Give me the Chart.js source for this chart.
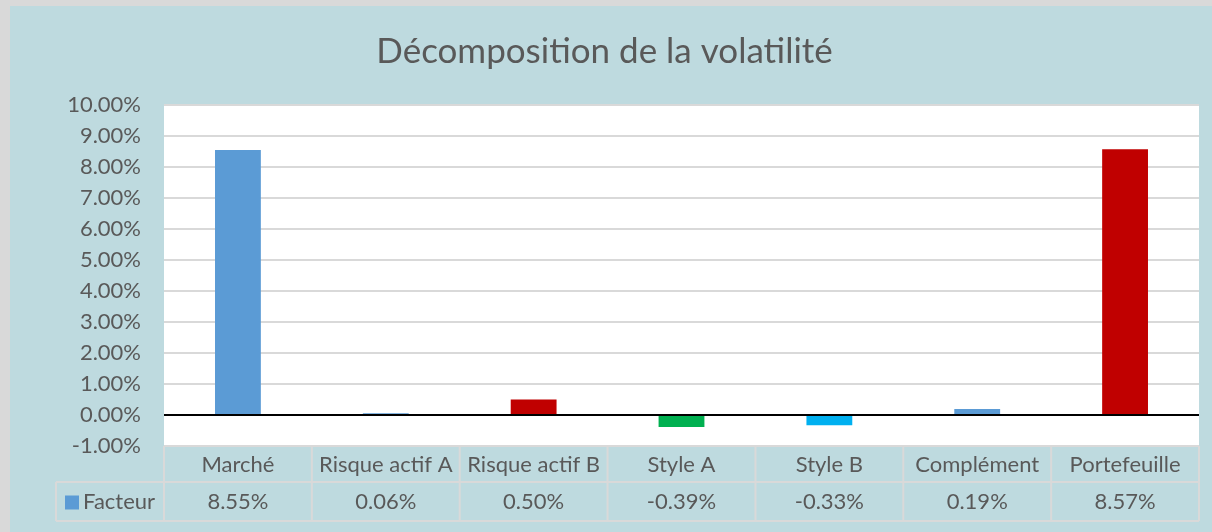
<!DOCTYPE html>
<html>
<head>
<meta charset="utf-8">
<script src="https://cdn.jsdelivr.net/npm/chart.js@4.4.0/dist/chart.umd.min.js"></script>
<style>
  html, body { margin: 0; padding: 0; background: #d9d9d9; }
  #wrap { position: relative; width: 1212px; height: 532px; }
</style>
</head>
<body>
<div id="wrap"><canvas id="volChart"></canvas></div>
<script>
// données du graphique
const categories = ['Marché', 'Risque actif A', 'Risque actif B', 'Style A', 'Style B', 'Complément', 'Portefeuille'];
const facteur = [8.55, 0.06, 0.50, -0.39, -0.33, 0.19, 8.57];
const barColors = ['#5b9bd5', '#5b9bd5', '#c00000', '#00b050', '#00b0f0', '#5b9bd5', '#c00000'];
const seriesName = 'Facteur';
const yMin = -1, yMax = 10, yStep = 1;

const FONT = 'Lato, "Open Sans", sans-serif';
const TEXT = '#595959';
const LINE = '#d9d9d9';

// fond gris + zone bleue + zone de tracé blanche
const fondPlugin = {
  id: 'fond',
  beforeDraw(chart) {
    const { ctx, chartArea: a } = chart;
    ctx.save();
    ctx.fillStyle = '#d9d9d9';
    ctx.fillRect(0, 0, chart.width, chart.height);
    ctx.fillStyle = '#bedadf';
    ctx.fillRect(10, 6, chart.width - 10, chart.height - 6);
    ctx.fillStyle = '#ffffff';
    ctx.fillRect(a.left, a.top, a.right - a.left, a.bottom - a.top);
    ctx.restore();
  }
};

// table de données sous le graphique (style Excel)
const tablePlugin = {
  id: 'tableau',
  afterDraw(chart) {
    const { ctx, chartArea: a } = chart;
    const w = (a.right - a.left) / categories.length;
    const rowTop = a.bottom + 36;
    const rowBottom = a.bottom + 75;
    const legLeft = 56;
    const mid = (rowTop + rowBottom) / 2;

    ctx.save();
    ctx.strokeStyle = LINE;
    ctx.lineWidth = 2;
    ctx.beginPath();
    // lignes horizontales
    ctx.moveTo(legLeft, rowTop); ctx.lineTo(a.right, rowTop);
    ctx.moveTo(legLeft, rowBottom); ctx.lineTo(a.right, rowBottom);
    ctx.moveTo(legLeft, rowTop); ctx.lineTo(legLeft, rowBottom);
    // lignes verticales
    for (let i = 0; i <= categories.length; i++) {
      const x = a.left + i * w;
      ctx.moveTo(x, a.bottom); ctx.lineTo(x, rowBottom);
    }
    ctx.stroke();

    // valeurs
    ctx.fillStyle = TEXT;
    ctx.font = '22px ' + FONT;
    ctx.textAlign = 'center';
    ctx.textBaseline = 'middle';
    const xs = chart.scales.x;
    facteur.forEach((v, i) => {
      ctx.fillText(v.toFixed(2) + '%', xs.getPixelForValue(i), mid);
    });

    // légende
    ctx.fillStyle = '#5b9bd5';
    ctx.fillRect(65, mid - 6, 14, 14);
    ctx.fillStyle = TEXT;
    ctx.textAlign = 'left';
    ctx.fillText(seriesName, 83, mid);
    ctx.restore();
  }
};

new Chart(document.getElementById('volChart'), {
  type: 'bar',
  data: {
    labels: categories,
    datasets: [{
      label: seriesName,
      data: facteur,
      backgroundColor: barColors,
      borderWidth: 0,
      barPercentage: 0.31,
      categoryPercentage: 1
    }]
  },
  options: {
    responsive: true,
    maintainAspectRatio: false,
    animation: false,
    layout: { padding: { top: 6, left: 10, right: 13, bottom: 0 } },
    scales: {
      x: {
        grid: { display: false },
        border: { display: false },
        ticks: { color: TEXT, font: { family: FONT, size: 22 }, padding: -2, maxRotation: 0, autoSkip: false },
        afterFit: scale => { scale.height = 86; }
      },
      y: {
        min: yMin,
        max: yMax,
        border: { display: false },
        grid: {
          drawTicks: false,
          color: c => c.tick.value === 0 ? '#000000' : LINE,
          lineWidth: 2
        },
        ticks: {
          stepSize: yStep,
          color: TEXT,
          padding: 23,
          font: { family: FONT, size: 22 },
          callback: v => v.toFixed(2) + '%'
        },
        afterFit: scale => { scale.width = 154; }
      }
    },
    plugins: {
      legend: { display: false },
      tooltip: { enabled: false },
      title: {
        display: true,
        text: 'Décomposition de la volatilité',
        color: TEXT,
        font: { family: FONT, size: 35, weight: 'normal' },
        padding: { top: 25, bottom: 32 }
      }
    }
  },
  plugins: [fondPlugin, tablePlugin]
});
</script>
</body>
</html>
